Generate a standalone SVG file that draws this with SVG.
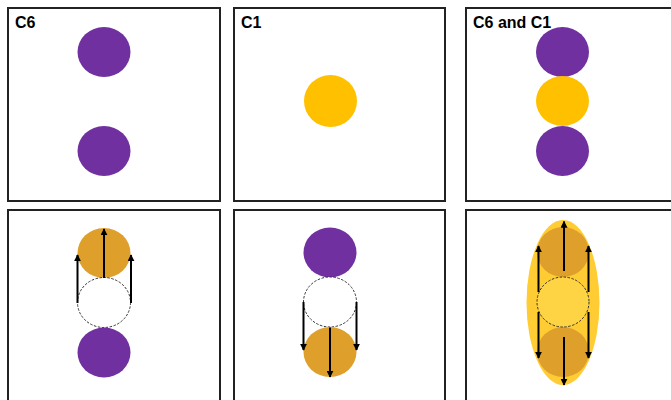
<svg xmlns="http://www.w3.org/2000/svg" width="671" height="400" viewBox="0 0 671 400">
<defs>
<style>
.panel{fill:#fff;stroke:#222;stroke-width:2}
.lbl{font-family:"Liberation Sans",Arial,sans-serif;font-weight:bold;font-size:16px;fill:#000}
.pur{fill:#7030A0}
.yel{fill:#FFC000}
.org{fill:#DF9F2B}
.dash{fill:#fff;stroke:#333;stroke-width:1;stroke-dasharray:2.5,1.5}
.arr{stroke:#000;stroke-width:2;fill:none;marker-end:url(#ah)}
</style>
<marker id="ah" viewBox="0 0 10 10" refX="9" refY="5" markerWidth="3.5" markerHeight="3.5" orient="auto" markerUnits="strokeWidth">
<path d="M0,0 L10,5 L0,10 z" fill="#000"/>
</marker>
</defs>
<g id="panel-c6">
<rect class="panel" x="8" y="8" width="212" height="193"/>
<text class="lbl" x="15" y="28">C6</text>
<ellipse class="pur" cx="104" cy="52" rx="26.5" ry="25"/>
<ellipse class="pur" cx="104" cy="151" rx="26.5" ry="25"/>
</g>
<g id="panel-c1">
<rect class="panel" x="234" y="8" width="211" height="193"/>
<text class="lbl" x="241" y="28">C1</text>
<ellipse class="yel" cx="330.5" cy="101" rx="26.5" ry="26"/>
</g>
<g id="panel-c6c1">
<rect class="panel" x="466" y="8" width="215" height="193"/>
<text class="lbl" x="473" y="28">C6 and C1</text>
<ellipse class="pur" cx="562.5" cy="52" rx="26.5" ry="25"/>
<ellipse class="yel" cx="562.5" cy="101" rx="26.5" ry="25"/>
<ellipse class="pur" cx="562.5" cy="151" rx="26.5" ry="25"/>
</g>
<g id="panel-c6-motion">
<rect class="panel" x="8" y="210" width="212" height="200"/>
<ellipse class="org" cx="104" cy="253" rx="26.5" ry="25"/>
<ellipse class="dash" cx="104" cy="302.5" rx="26.5" ry="25"/>
<ellipse class="pur" cx="104" cy="352.5" rx="26.5" ry="25"/>
</g>
<g id="panel-c1-motion">
<rect class="panel" x="234" y="210" width="211" height="200"/>
<ellipse class="pur" cx="330" cy="252.5" rx="26.5" ry="25"/>
<ellipse class="dash" cx="330" cy="302" rx="26.5" ry="25"/>
<ellipse class="org" cx="330" cy="352" rx="26.5" ry="25"/>
</g>
<g id="panel-c6c1-motion">
<rect class="panel" x="466" y="210" width="215" height="200"/>
<ellipse fill="#FFCC33" cx="563" cy="302.5" rx="36.5" ry="82.5"/>
<ellipse class="org" cx="563" cy="252" rx="26" ry="25"/>
<ellipse class="org" cx="563" cy="352" rx="26" ry="25"/>
<ellipse class="dash" style="fill:#FFD444" cx="563" cy="302" rx="26" ry="25"/>
</g>
<g id="connectors">
<line class="arr" x1="104" y1="278" x2="104" y2="229"/>
<line class="arr" x1="77.5" y1="303" x2="77.5" y2="255"/>
<line class="arr" x1="131" y1="303" x2="131" y2="255"/>
<line class="arr" x1="330" y1="327.5" x2="330" y2="377"/>
<line class="arr" x1="303.5" y1="302" x2="303.5" y2="350"/>
<line class="arr" x1="356.5" y1="302" x2="356.5" y2="350"/>
<line class="arr" x1="564" y1="271" x2="564" y2="221.5"/>
<line class="arr" x1="538.5" y1="292" x2="538.5" y2="246"/>
<line class="arr" x1="588.5" y1="292" x2="588.5" y2="246"/>
<line class="arr" x1="564" y1="337" x2="564" y2="385"/>
<line class="arr" x1="538.5" y1="312" x2="538.5" y2="358"/>
<line class="arr" x1="588.5" y1="312" x2="588.5" y2="358"/>
</g>
</svg>
